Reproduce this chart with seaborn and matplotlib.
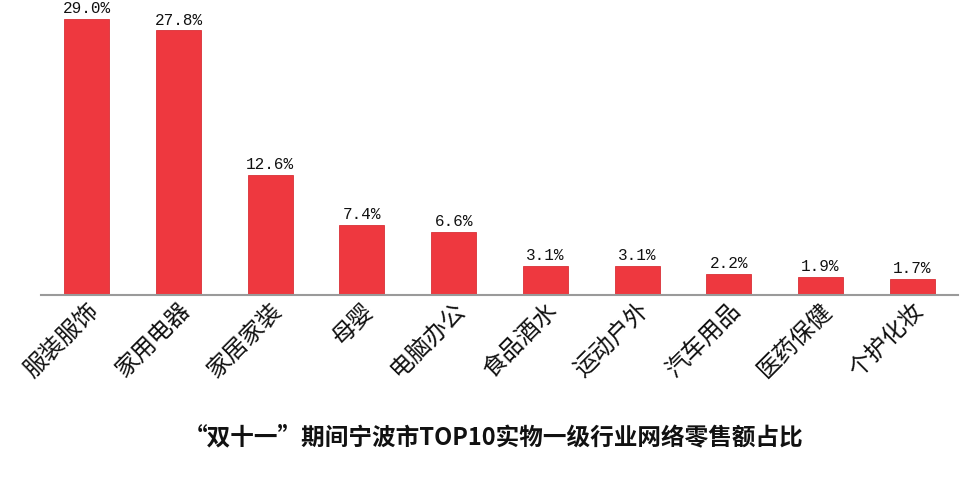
import matplotlib
matplotlib.use("Agg")
import matplotlib.pyplot as plt
import seaborn as sns
import pandas as pd

categories = ["服装服饰", "家用电器", "家居家装", "母婴", "电脑办公",
              "食品酒水", "运动户外", "汽车用品", "医药保健", "个护化妆"]
values = [29.0, 27.8, 12.6, 7.4, 6.6, 3.1, 3.1, 2.2, 1.9, 1.7]
value_labels = ["29.0%", "27.8%", "12.6%", "7.4%", "6.6%", "3.1%", "3.1%", "2.2%", "1.9%", "1.7%"]
title = "“双十一”期间宁波市TOP10实物一级行业网络零售额占比"

sns.set_theme(style="white")
plt.rcParams['font.family'] = ['Noto Sans CJK SC', 'DejaVu Sans']

df = pd.DataFrame({"cat": categories, "val": values})

fig = plt.figure(figsize=(9.66, 4.79), dpi=100)
ax = fig.add_axes([41/966, 1 - 295/479, (958 - 41)/966, 295/479])

sns.barplot(data=df, x="cat", y="val", ax=ax, color="#EE383F", width=0.49,
            saturation=1, edgecolor="#D93037", linewidth=0.6)

ax.set_xlim(-0.5, 9.5)
ax.set_ylim(0, 31.0)
ax.set_xlabel("")
ax.set_ylabel("")
ax.set_yticks([])
for s in ["left", "right", "top"]:
    ax.spines[s].set_visible(False)
ax.spines["bottom"].set_color("#9a9a9a")
ax.spines["bottom"].set_linewidth(1.5)

for i, (v, lab) in enumerate(zip(values, value_labels)):
    ax.text(i, v + 0.3, lab, ha="center", va="bottom", fontsize=11.5,
            family=["Liberation Mono", "DejaVu Sans Mono"], color="#111111",
            clip_on=False)

ax.tick_params(axis="x", length=0, pad=3)
ax.set_xticks(range(len(categories)))
ax.set_xticklabels(categories, rotation=45, ha="right", va="top",
                   rotation_mode="anchor", fontsize=17, color="#111111")
for t in ax.get_xticklabels():
    t.set_family(['Noto Sans CJK SC', 'DejaVu Sans'])

fig.text(494/966, 1 - 437/479, title, ha="center", va="center", fontsize=17,
         fontweight="bold", color="#111111",
         family=['Noto Sans CJK SC', 'DejaVu Sans'])

fig.savefig("out.png", dpi=100)
